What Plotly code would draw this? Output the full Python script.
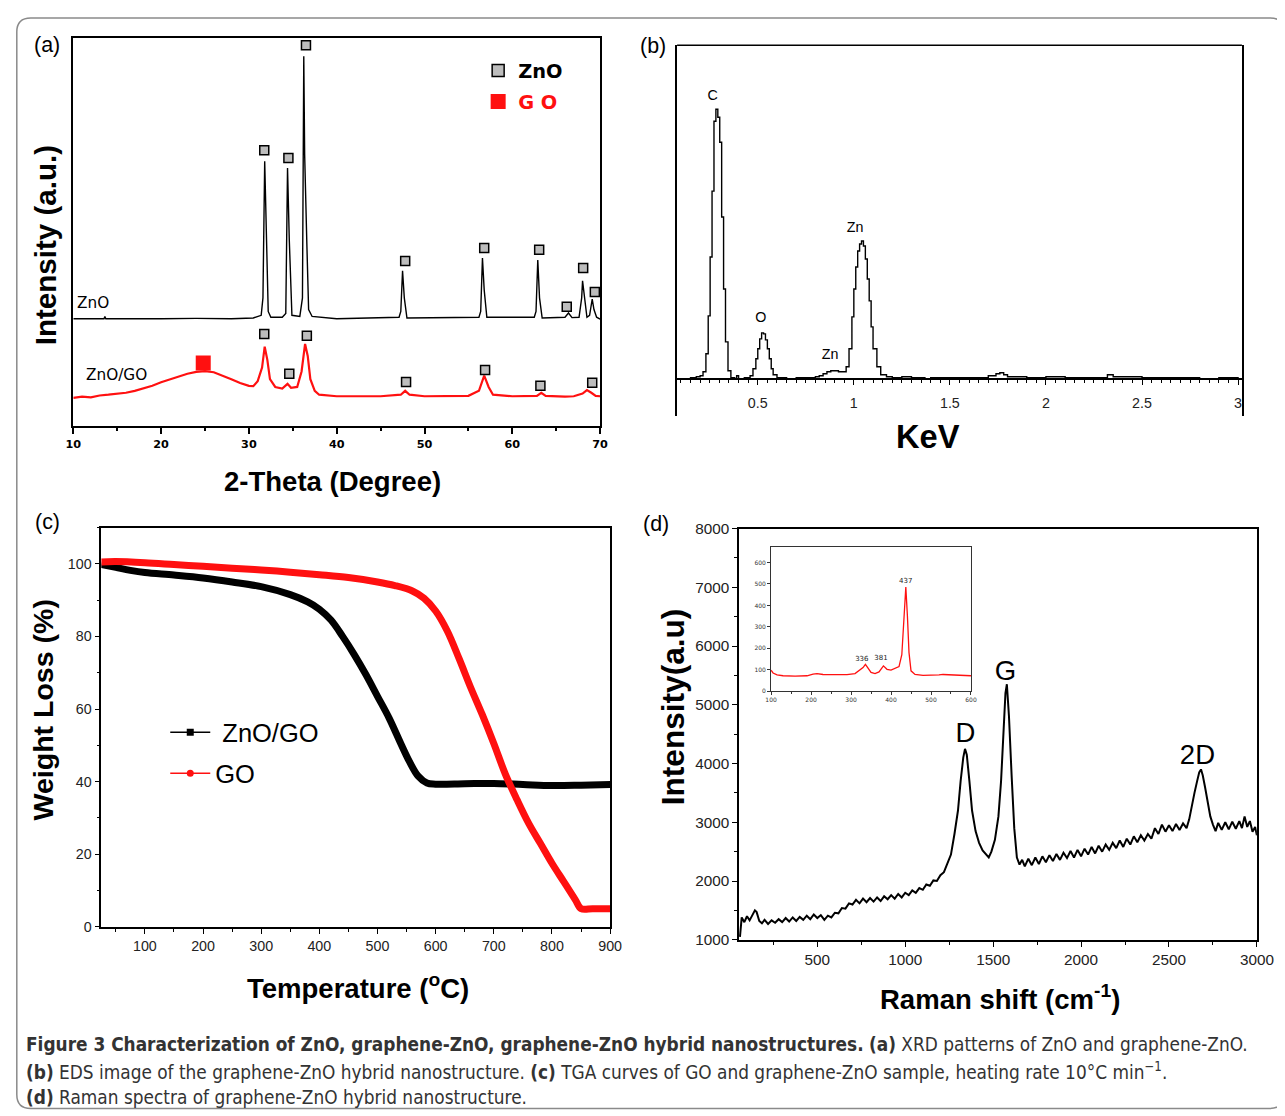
import plotly.graph_objects as go

# measured: screenshot pixel = K * (M + figure pixel)
KX, MX = 0.981, 16.0
KY, MY = 0.9866, 15.8
FW, FH = 1294, 1122
FS = 1.0 / KX

# ---------------- (a) XRD data ----------------
xrd_zno_theta = [10, 13.5, 13.6, 13.7, 20, 24, 28, 30.5, 31.4, 31.6, 31.8, 32.0, 32.2, 32.5,
                 33.8, 34.2, 34.4, 34.6, 34.9, 35.8, 36.1, 36.25, 36.35, 36.6, 36.8, 37.2, 40,
                 47.1, 47.3, 47.5, 47.7, 48.0, 56.2, 56.4, 56.6, 56.8, 57.1, 62.5, 62.7, 62.9,
                 63.1, 63.4, 66.0, 66.4, 66.8, 67.6, 67.9, 68.0, 68.2, 68.5, 68.8, 69.1, 69.3,
                 69.6, 70]
xrd_zno_int = [27.6, 27.6, 28.2, 27.6, 27.6, 27.7, 27.6, 27.8, 28.5, 33, 68.3, 50, 29.5, 28,
               28, 29, 66.5, 48, 28.5, 28.2, 33, 95.4, 70, 47, 30, 28.2, 27.6,
               28, 29.5, 40, 33, 27.8, 28, 29.5, 43.3, 35, 28, 28, 29.5, 42.8,
               33, 27.8, 28, 29.1, 27.9, 28, 33, 37.4, 33.5, 28, 28.5, 32.7, 30,
               28, 27.5]

xrd_gozno_theta = [10, 11, 12, 13, 14, 15, 16, 17, 18, 19, 20, 21, 22, 23, 24, 25, 26, 27, 28,
                   29, 30, 30.5, 31, 31.5, 31.8, 32.1, 32.4, 33, 33.8, 34.4, 34.8, 35.5, 36.0,
                   36.4, 36.7, 37.0, 37.5, 38, 40, 45, 47.3, 47.8, 48.3, 50, 55, 56.2, 56.8,
                   57.3, 57.8, 60, 62.8, 63.3, 63.8, 66, 67, 68.0, 68.5, 69.0, 69.5, 70]
xrd_gozno_int = [7.2, 7.5, 7.3, 7.8, 8.0, 8.2, 8.5, 9.0, 9.6, 10.3, 11.2, 12.0, 12.8, 13.4, 13.9,
                 14.1, 13.8, 13.0, 12.0, 11.0, 10.3, 10.2, 11.5, 15, 20.4, 17, 12, 10, 9.6, 10.8,
                 9.8, 10, 14, 21.1, 18, 12, 9, 8, 7.6, 7.6, 8, 9, 8, 7.6, 7.7, 9, 12.9,
                 10, 8, 7.6, 7.7, 8.5, 7.7, 7.5, 7.6, 8.3, 9.2, 8.5, 7.7, 7.6]

zno_mark_theta = [31.75, 34.5, 36.5, 47.8, 56.8, 63.06, 66.2, 68.07, 69.4]
zno_mark_int = [71.1, 69.1, 98.2, 42.5, 45.9, 45.4, 30.7, 40.7, 34.5]
gozno_mark_theta = [31.75, 34.6, 36.6, 47.9, 56.9, 63.2, 69.1]
gozno_mark_int = [23.7, 13.4, 23.2, 11.3, 14.4, 10.3, 11.1]
go_mark_theta = [24.8]
go_mark_int = [16.2]

# ---------------- (b) EDS data ----------------
eds_kev = [0.08, 0.12, 0.15, 0.18, 0.2, 0.215, 0.23, 0.242, 0.252, 0.262, 0.272, 0.282, 0.292,
           0.302, 0.312, 0.322, 0.332, 0.345, 0.36, 0.38, 0.39, 0.40, 0.43, 0.46, 0.475, 0.49,
           0.50, 0.51, 0.52, 0.53, 0.54, 0.55, 0.56, 0.57, 0.58, 0.60, 0.65, 0.70, 0.75, 0.80,
           0.82, 0.84, 0.86, 0.88, 0.90, 0.92, 0.94, 0.96, 0.975, 0.99, 1.0, 1.01, 1.02, 1.03,
           1.04, 1.05, 1.06, 1.07, 1.08, 1.09, 1.10, 1.12, 1.14, 1.17, 1.2, 1.25, 1.3, 1.37,
           1.4, 1.5, 1.6, 1.7, 1.74, 1.76, 1.78, 1.8, 1.9, 2.0, 2.1, 2.2, 2.3, 2.32, 2.35, 2.5,
           2.6, 2.7, 2.8, 2.9, 3.0]
eds_counts = [0, 0, 1, 2, 3, 7, 25, 63, 122, 188, 258, 270, 262, 237, 162, 90, 37, 8, 1, 0,
              3, 0, 1, 3, 10, 20, 30, 40, 46, 45, 39, 30, 20, 10, 4, 1, 0, 1, 1, 2,
              3, 5, 7, 8, 8, 7, 7, 12, 30, 62, 90, 112, 128, 135, 138, 133, 120, 100, 78, 52,
              30, 12, 4, 2, 1, 2, 1, 0, 1, 1, 1, 3, 5, 6, 4, 2, 1, 2, 1, 1,
              1, 4, 2, 1, 1, 1, 0, 1, 0]
eds_labels = ["C", "O", "Zn", "Zn"]
eds_label_kev = [0.265, 0.516, 0.876, 1.007]
eds_label_counts = [283, 60, 23, 151]

# ---------------- (c) TGA data ----------------
tga_zno_go_T = [25, 50, 75, 100, 150, 200, 250, 300, 350, 380, 400, 420, 440, 460, 480, 500,
                520, 540, 555, 570, 585, 600, 650, 700, 750, 800, 850, 900]
tga_zno_go_w = [99.8, 99.0, 98.2, 97.6, 96.9, 96.1, 95.0, 93.7, 91.5, 89.5, 87.5, 84.5, 80.0,
                75.0, 69.5, 63.5, 57.5, 50.5, 45.5, 41.5, 39.6, 39.3, 39.4, 39.5, 39.2, 38.9,
                39.0, 39.2]
tga_go_T = [25, 50, 100, 150, 200, 250, 300, 350, 400, 450, 500, 530, 560, 580, 600, 620, 640,
            660, 680, 700, 720, 740, 760, 780, 800, 820, 840, 850, 870, 900]
tga_go_w = [100.5, 100.6, 100.3, 99.8, 99.3, 98.8, 98.3, 97.7, 97.0, 96.2, 95.0, 94.0, 92.5,
            90.5, 87.0, 81.5, 74.0, 66.0, 58.5, 50.5, 42.0, 35.0, 28.5, 23.0, 17.5, 12.5, 7.5,
            5.0, 5.0, 5.0]

# ---------------- (d) Raman data ----------------
raman_shift = [60, 70, 85, 100, 115, 130, 145, 155, 170, 185, 200, 220, 240, 260, 280, 300, 320,
               340, 360, 380, 400, 420, 440, 460, 480, 500, 520, 540, 560, 580, 600, 620, 640,
               660, 680, 700, 720, 740, 760, 780, 800, 820, 840, 860, 880, 900, 920, 940, 960,
               980, 1000, 1020, 1040, 1060, 1080, 1100, 1120, 1140, 1160, 1180, 1200, 1220,
               1240, 1260, 1280, 1300, 1315, 1330, 1340, 1350, 1365, 1380, 1400, 1420, 1440,
               1460, 1475, 1490, 1510, 1530, 1545, 1560, 1570, 1578, 1590, 1605, 1620, 1635,
               1650, 1665, 1680, 1700, 1720, 1740, 1760, 1780, 1800, 1820, 1840, 1860, 1880,
               1900, 1920, 1940, 1960, 1980, 2000, 2020, 2040, 2060, 2080, 2100, 2120, 2140,
               2160, 2180, 2200, 2220, 2240, 2260, 2280, 2300, 2320, 2340, 2360, 2380, 2400,
               2420, 2440, 2460, 2480, 2500, 2520, 2540, 2560, 2580, 2600, 2615, 2630, 2645,
               2660, 2672, 2682, 2692, 2705, 2720, 2735, 2750, 2765, 2780, 2800, 2820, 2840,
               2860, 2880, 2900, 2915, 2930, 2945, 2960, 2975, 2990, 3000]
raman_int = [1050, 1380, 1300, 1400, 1330, 1420, 1500, 1470, 1320, 1280, 1340, 1270, 1330, 1290,
             1350, 1300, 1370, 1310, 1380, 1320, 1390, 1340, 1410, 1350, 1430, 1370, 1420, 1340,
             1410, 1380, 1460, 1450, 1540, 1530, 1620, 1600, 1680, 1620, 1700, 1640, 1710, 1650,
             1720, 1660, 1740, 1690, 1760, 1700, 1780, 1720, 1800, 1760, 1840, 1800, 1880, 1850,
             1940, 1920, 2010, 2000, 2100, 2150, 2300, 2450, 2800, 3200, 3700, 4100, 4250, 4150,
             3700, 3200, 2850, 2650, 2520, 2460, 2400, 2500, 2700, 3100, 3700, 4600, 5200, 5350,
             4800, 3800, 2900, 2400, 2280, 2360, 2250, 2380, 2270, 2400, 2290, 2420, 2320, 2440,
             2340, 2460, 2360, 2480, 2390, 2510, 2400, 2530, 2420, 2550, 2450, 2580, 2470, 2600,
             2500, 2620, 2530, 2650, 2560, 2690, 2580, 2720, 2620, 2760, 2660, 2780, 2690, 2800,
             2720, 2900, 2800, 2960, 2840, 2950, 2850, 2970, 2870, 2980, 2900, 3050, 3300, 3500,
             3700, 3850, 3900, 3800, 3600, 3350, 3100, 2960, 2850, 2990, 2870, 3000, 2880, 3010,
             2890, 3020, 2900, 3100, 2920, 3020, 2840, 2920, 2780]
raman_labels = ["D", "G", "2D"]
raman_label_shift = [1343, 1570, 2662]
raman_label_int = [4486, 5541, 4112]

# inset (ZnO Raman)
inset_shift = [100, 105, 115, 130, 160, 190, 205, 215, 230, 260, 290, 310, 320, 330, 336, 342,
               350, 360, 370, 381, 390, 400, 410, 420, 427, 432, 437, 441, 445, 450, 460, 480,
               500, 520, 530, 545, 560, 580, 600]
inset_int = [98, 85, 76, 72, 70, 72, 80, 82, 78, 76, 77, 82, 95, 110, 125, 108, 88, 82, 90, 118,
             102, 98, 105, 115, 170, 350, 485, 350, 180, 95, 78, 74, 74, 76, 78, 76, 75, 74, 72]
inset_labels = ["336", "381", "437"]
inset_label_shift = [327, 375, 437]
inset_label_int = [149, 153, 512]

for a, b in [(xrd_zno_theta, xrd_zno_int), (xrd_gozno_theta, xrd_gozno_int),
             (eds_kev, eds_counts), (tga_zno_go_T, tga_zno_go_w), (tga_go_T, tga_go_w),
             (raman_shift, raman_int), (inset_shift, inset_int)]:
    assert len(a) == len(b), (len(a), len(b))


def px(x):
    return (x / KX - MX) / FW


def py(y):
    return 1 - (y / KY - MY) / FH


def f(s):
    return round(s * FS, 2)


RED = "#ff1010"
fig = go.Figure()

# (a)
fig.add_trace(go.Scatter(x=xrd_zno_theta, y=xrd_zno_int, mode="lines", line=dict(color="black", width=1.4),
                         xaxis="x", yaxis="y", showlegend=False))
fig.add_trace(go.Scatter(x=xrd_gozno_theta, y=xrd_gozno_int, mode="lines", line=dict(color=RED, width=2.2),
                         xaxis="x", yaxis="y", showlegend=False))
sq = dict(symbol="square", size=9, color="#bdbdbd", line=dict(color="black", width=1.5))
fig.add_trace(go.Scatter(x=zno_mark_theta, y=zno_mark_int, mode="markers", marker=sq,
                         xaxis="x", yaxis="y", showlegend=False))
fig.add_trace(go.Scatter(x=gozno_mark_theta, y=gozno_mark_int, mode="markers", marker=sq,
                         xaxis="x", yaxis="y", showlegend=False))
fig.add_trace(go.Scatter(x=go_mark_theta, y=go_mark_int, mode="markers",
                         marker=dict(symbol="square", size=15, color=RED, line=dict(width=0)),
                         xaxis="x", yaxis="y", showlegend=False))
# legend entries (a)
fig.add_trace(go.Scatter(x=[None], y=[None], mode="markers", name="<b>ZnO</b>", legendgroup="a1",
                         marker=dict(symbol="square", size=12, color="#bdbdbd", line=dict(color="black", width=1.5)),
                         xaxis="x", yaxis="y", legend="legend"))
fig.add_trace(go.Scatter(x=[None], y=[None], mode="markers", legendgroup="a2",
                         name="<b><span style='color:%s'>G O</span></b>" % RED,
                         marker=dict(symbol="square", size=15, color=RED, line=dict(width=0)),
                         xaxis="x", yaxis="y", legend="legend"))

# (b)
fig.add_trace(go.Scatter(x=eds_kev, y=eds_counts, mode="lines", line=dict(color="black", width=1.4, shape="hv"),
                         xaxis="x2", yaxis="y2", showlegend=False))
fig.add_trace(go.Scatter(x=eds_label_kev, y=eds_label_counts, mode="text", text=eds_labels,
                         textfont=dict(family="Liberation Sans, Arial", size=f(14), color="black"),
                         xaxis="x2", yaxis="y2", showlegend=False))

# (c)
fig.add_trace(go.Scatter(x=tga_zno_go_T, y=tga_zno_go_w, mode="lines", line=dict(color="black", width=7, shape="spline"),
                         xaxis="x3", yaxis="y3", showlegend=False))
fig.add_trace(go.Scatter(x=tga_go_T, y=tga_go_w, mode="lines", line=dict(color=RED, width=7, shape="spline"),
                         xaxis="x3", yaxis="y3", showlegend=False))
fig.add_trace(go.Scatter(x=[None], y=[None], mode="lines+markers", name=" ZnO/GO", legendgroup="c1",
                         line=dict(color="black", width=1.5), marker=dict(symbol="square", size=7, color="black"),
                         xaxis="x3", yaxis="y3", legend="legend2"))
fig.add_trace(go.Scatter(x=[None], y=[None], mode="lines+markers", name="GO", legendgroup="c2",
                         line=dict(color=RED, width=1.5), marker=dict(symbol="circle", size=7, color=RED),
                         xaxis="x3", yaxis="y3", legend="legend2"))

# (d)
fig.add_trace(go.Scatter(x=raman_shift, y=raman_int, mode="lines", line=dict(color="black", width=2),
                         xaxis="x4", yaxis="y4", showlegend=False))
fig.add_trace(go.Scatter(x=raman_label_shift, y=raman_label_int, mode="text", text=raman_labels,
                         textfont=dict(family="Liberation Sans, Arial", size=f(27), color="black"),
                         xaxis="x4", yaxis="y4", showlegend=False))
fig.add_trace(go.Scatter(x=inset_shift, y=inset_int, mode="lines", line=dict(color=RED, width=1.3),
                         xaxis="x5", yaxis="y5", showlegend=False))
fig.add_trace(go.Scatter(x=inset_label_shift, y=inset_label_int, mode="text", text=inset_labels,
                         textfont=dict(family="DejaVu Sans", size=7, color="#222"),
                         xaxis="x5", yaxis="y5", showlegend=False))

box = dict(showline=True, linecolor="black", linewidth=1.5, mirror=True, showgrid=False, zeroline=False)
tf = dict(family="Liberation Sans, Arial", size=f(14), color="#222")

layout = dict(
    width=FW, height=FH, margin=dict(l=0, r=0, t=0, b=0),
    paper_bgcolor="white", plot_bgcolor="white",
    xaxis=dict(domain=[px(73), px(600)], range=[10, 70], anchor="y", **box,
               ticks="outside", ticklen=7, tickwidth=1.5, tickcolor="black", dtick=10, tick0=10,
               minor=dict(ticks="outside", ticklen=4, dtick=5, tickcolor="black", tickwidth=1.5),
               tickfont=dict(family="DejaVu Sans", size=f(11), color="black", weight="bold")),
    yaxis=dict(domain=[py(425), py(37)], range=[0, 100], anchor="x", **box,
               ticks="", showticklabels=False),
    xaxis2=dict(domain=[px(677), px(1242)], range=[0.08, 3.02], anchor="free", position=py(378),
                showline=True, linecolor="black", linewidth=1.5, showgrid=False, zeroline=False,
                ticks="outside", ticklen=5, tickwidth=1, tickcolor="black", dtick=0.5, tick0=0,
                minor=dict(ticks="outside", ticklen=3, dtick=0.05, tickcolor="black"),
                tickfont=tf, ticklabelstandoff=6),
    yaxis2=dict(domain=[py(415), py(44)], range=[-37, 334], anchor="x2", **box,
                ticks="", showticklabels=False),
    xaxis3=dict(domain=[px(101), px(610)], range=[25, 900], anchor="y3", **box,
                ticks="outside", ticklen=5, tickwidth=1, tickcolor="black", dtick=100, tick0=0,
                minor=dict(ticks="outside", ticklen=3, dtick=50, tickcolor="black"),
                tickfont=tf),
    yaxis3=dict(domain=[py(927), py(527)], range=[0, 110], anchor="x3", **box,
                ticks="outside", ticklen=5, tickwidth=1, tickcolor="black", dtick=20, tick0=0,
                minor=dict(ticks="outside", ticklen=3, dtick=10, tickcolor="black"),
                tickfont=tf),
    xaxis4=dict(domain=[px(739), px(1257)], range=[55, 3000], anchor="y4", **box,
                ticks="outside", ticklen=5, tickwidth=1, tickcolor="black", dtick=500, tick0=0,
                minor=dict(ticks="outside", ticklen=3, dtick=250, tickcolor="black"),
                tickfont=dict(family="Liberation Sans, Arial", size=f(15), color="#222")),
    yaxis4=dict(domain=[py(940), py(528)], range=[1000, 8000], anchor="x4", **box,
                ticks="outside", ticklen=5, tickwidth=1, tickcolor="black", dtick=1000, tick0=0,
                minor=dict(ticks="outside", ticklen=3, dtick=500, tickcolor="black"),
                tickfont=dict(family="Liberation Sans, Arial", size=f(15), color="#222")),
    xaxis5=dict(domain=[px(771), px(971)], range=[100, 600], anchor="y5",
                showline=True, linecolor="#333", linewidth=1, mirror=True, showgrid=False, zeroline=False,
                ticks="outside", ticklen=3, tickwidth=1, tickcolor="#333", dtick=100, tick0=0,
                minor=dict(ticks="outside", ticklen=2, dtick=50, tickcolor="#333"),
                tickfont=dict(family="DejaVu Sans", size=6, color="#333")),
    yaxis5=dict(domain=[py(691), py(547)], range=[0, 670], anchor="x5",
                showline=True, linecolor="#333", linewidth=1, mirror=True, showgrid=False, zeroline=False,
                ticks="outside", ticklen=3, tickwidth=1, tickcolor="#333", dtick=100, tick0=0,
                tickfont=dict(family="DejaVu Sans", size=6, color="#333")),
    legend=dict(x=px(478), y=py(50), xanchor="left", yanchor="top", bgcolor="rgba(0,0,0,0)",
                font=dict(family="DejaVu Sans", size=f(19), color="black"), itemwidth=30,
                tracegroupgap=3),
    legend2=dict(x=px(165), y=py(709), xanchor="left", yanchor="top", bgcolor="rgba(0,0,0,0)",
                 font=dict(family="Liberation Sans, Arial", size=f(25), color="black"), itemwidth=40,
                 tracegroupgap=5),
)
fig.update_layout(**layout)

ann = []
def A(text, x, y, size, bold=False, angle=0, family="Liberation Sans, Arial", color="black",
      xanchor="center", yanchor="middle", xref="paper", yref="paper"):
    t = "<b>%s</b>" % text if bold else text
    ann.append(dict(text=t, x=x if xref != "paper" else px(x), y=y if yref != "paper" else py(y),
                    xref=xref, yref=yref, showarrow=False, textangle=angle,
                    font=dict(family=family, size=f(size), color=color),
                    xanchor=xanchor, yanchor=yanchor))

# panel labels
A("(a)", 47, 44, 21)
A("(b)", 653, 45, 21)
A("(c)", 47, 521, 21)
A("(d)", 656, 523, 21)
# axis titles
A("Intensity (a.u.)", 45, 244, 29, bold=True, angle=-90)
A("2-Theta (Degree)", 332, 481, 27, bold=True)
A("KeV", 928, 436, 32, bold=True)
A("Weight Loss (%)", 43, 710, 28, bold=True, angle=-90)
A("Temperature (<sup>o</sup>C)", 358, 987, 27, bold=True)
A("Intensity(a.u)", 673, 707, 31, bold=True, angle=-90)
A("Raman shift (cm<sup>-1</sup>)", 1000, 998, 27, bold=True)
# curve labels in (a)
A("ZnO", 12.3, 31.7, 15, family="DejaVu Sans", xref="x", yref="y")
A("ZnO/GO", 14.9, 13.1, 15, family="DejaVu Sans", xref="x", yref="y")

# caption
cap_font = "Liberation Sans Narrow, DejaVu Sans Condensed, Arial Narrow, sans-serif"
cap = [
    "<b>Figure 3 Characterization of ZnO, graphene-ZnO, graphene-ZnO hybrid nanostructures.</b> <b>(a)</b> XRD patterns of ZnO and graphene-ZnO.",
    "<b>(b)</b> EDS image of the graphene-ZnO hybrid nanostructure. <b>(c)</b> TGA curves of GO and graphene-ZnO sample, heating rate 10°C min<sup>−1</sup>.",
    "<b>(d)</b> Raman spectra of graphene-ZnO hybrid nanostructure.",
]
for i, line in enumerate(cap):
    A(line, 24, 1044 + 27 * i, 18.5, family=cap_font, color="#333", xanchor="left")
fig.update_layout(annotations=ann)

# frame with rounded corners (left/top edge as close as the page allows) and top line for (b)
r = 14
x0, y0, x1, y1 = 16.5, 16.5, 1284, 1109
path = ("M %f,%f L %f,%f Q %f,%f %f,%f L %f,%f Q %f,%f %f,%f L %f,%f Q %f,%f %f,%f L %f,%f Q %f,%f %f,%f Z" % (
    px(x0 + r), py(y0), px(x1 - r), py(y0), px(x1), py(y0), px(x1), py(y0 + r),
    px(x1), py(y1 - r), px(x1), py(y1), px(x1 - r), py(y1),
    px(x0 + r), py(y1), px(x0), py(y1), px(x0), py(y1 - r),
    px(x0), py(y0 + r), px(x0), py(y0), px(x0 + r), py(y0)))
fig.update_layout(shapes=[
    dict(type="path", path=path, xref="paper", yref="paper", line=dict(color="#8a8a8a", width=1.5)),
    dict(type="line", xref="x2 domain", yref="y2 domain", x0=0, x1=1, y0=1, y1=1,
         line=dict(color="black", width=1.5)),
])

fig.write_html("out.html")
